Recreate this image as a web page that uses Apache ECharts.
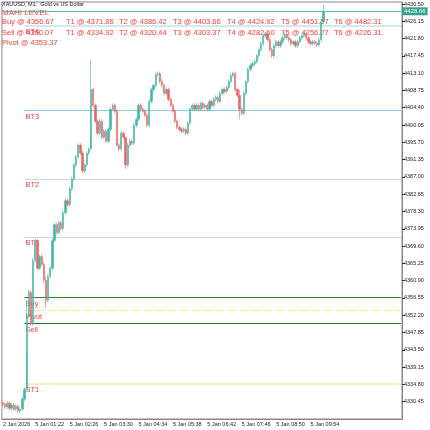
<!DOCTYPE html>
<html><head><meta charset="utf-8">
<script src="https://cdn.jsdelivr.net/npm/echarts@6/dist/echarts.min.js"></script>
<style>html,body{margin:0;padding:0;background:#fff}#c{width:430px;height:430px}</style>
</head><body><div id="c"></div>
<script>
// closes per 4-minute bar
const closes = [4329.8,4329.1,4330.1,4328.8,4329.6,4328.6,4329.3,4328.1,4328.6,4331.1,
4333.6,4352,4358,4350,4366,4371,4364,4367,4365,4361,
4356,4362,4364,4371,4375,4373,4375.5,4374,4378,4381,
4380,4384,4386.5,4390,4392,4395,4393,4388.5,4390,4393,
4394,4409,4405,4401,4398,4401,4397,4398.5,4396,4399,
4404,4405,4403.5,4395,4394,4398,4397,4390,4395,4396,
4395.5,4400,4401.5,4405,4404,4403.5,4402.5,4400,4406,4409,
4410,4412.7,4413,4411,4410,4408,4409,4406.5,4405,4403.5,
4401,4399.5,4399,4398.5,4399,4398,4400.5,4404,4405,4404,
4405,4404,4405.5,4404.5,4405,4404,4406,4405,4406.5,4407,
4406,4408,4409,4408.5,4409.5,4411,4412.5,4413,4409,4407.5,
4404,4403,4408,4411,4414,4415,4415.5,4416,4417.5,4419,
4420.5,4422.5,4423,4421.5,4419,4417.5,4420,4421,4420,4421,
4422,4422.8,4422,4421.5,4420.5,4421,4420,4421,4422,4422.5,
4423,4422,4421,4420.5,4421,4420.7,4420.2,4421.5,4426,4428.66];
const firstOpen = 4330.2;
// notable wicks: index -> [low, high]
const wicks = {11:[4343,4356],41:[4398,4416.5],20:[4354,4362],57:[4389,4397],110:[4401.5,4409],149:[4426,4430.3]};
const tickLabels = ["2 Jan 2026","5 Jan 01:22","5 Jan 02:26","5 Jan 03:30","5 Jan 04:34","5 Jan 05:38","5 Jan 06:42","5 Jan 07:46","5 Jan 08:50","5 Jan 09:54"];
const tickIdx = [0,15,31,47,63,79,95,111,127,143];
const buyT = ["Buy @ 4356.67","T1 @ 4371.86","T2 @ 4386.42","T3 @ 4403.66","T4 @ 4424.92","T5 @ 4451.57","T6 @ 4482.31"];
const sellT = ["Sell @ 4350.07","T1 @ 4334.92","T2 @ 4320.44","T3 @ 4303.37","T4 @ 4282.60","T5 @ 4256.27","T6 @ 4226.31"];
const pivotText = "Pivot @ 4353.37";
const levels = [
 {name:"BT4",v:4424.92,c:"#bfe3f0",t:"solid",w:1.5},
 {name:"BT3",v:4403.66,c:"#87cde6",t:"solid",w:1.2},
 {name:"BT2",v:4386.42,c:"#c3dbe6",t:"solid",w:1},
 {name:"BT1",v:4371.86,c:"#c3dbe6",t:"solid",w:1},
 {name:"Buy",v:4356.67,c:"#2a8a2a",t:"solid",w:1.2},
 {name:"Pivot",v:4353.37,c:"#f5f06a",t:[7,5],w:1.2},
 {name:"Sell",v:4350.07,c:"#227a22",t:"solid",w:1.2},
 {name:"ST1",v:4334.92,c:"#ffe0a8",t:"solid",w:1.5}
];
const current = 4428.66;
const N = 186;
const cats = []; for(let i=0;i<N;i++) cats.push(String(i));
const ohlc = closes.map((c,i)=>{
  const o = i===0?firstOpen:closes[i-1];
  let lo = Math.min(o,c)-0.5, hi = Math.max(o,c)+0.5;
  if (wicks[i]) { lo = wicks[i][0]; hi = wicks[i][1]; }
  return [o,c,lo,hi];
});
const red = "#ff3b3b";
const ff = "Liberation Sans";
const ml = levels.map(l=>[
 {xAxis:10, yAxis:l.v, lineStyle:{color:l.c,type:l.t,width:l.w}, label:{show:true,formatter:l.name,position:"insideStartBottom",distance:[1,2],color:red,fontSize:7.5,fontFamily:ff}},
 {xAxis:N-1, yAxis:l.v}
]);
ml.push([{xAxis:0,yAxis:current,lineStyle:{color:"#5fb8a8",type:"solid",width:1},
  label:{show:true,position:"end",formatter:current.toFixed(2),backgroundColor:"#3a9e8e",color:"#fff",fontSize:6,padding:[1,2],distance:1,fontFamily:ff}},
  {xAxis:N-1,yAxis:current}]);
const cols=[2,66,119,173,227,281,334];
const g=[{type:"text",left:2,top:1,style:{text:"XAUUSD, M1:  Gold vs US Dollar",fontSize:5.5,fill:"#222",fontFamily:ff}},
 {type:"text",left:2,top:9,style:{text:"MAHI LEVEL",fontSize:8,fill:red,fontFamily:ff}},
 {type:"text",left:2,top:39,style:{text:pivotText,fontSize:7.5,fill:red,fontFamily:ff}}];
buyT.forEach((t,i)=>g.push({type:"text",left:cols[i],top:18,style:{text:t,fontSize:7.5,fill:red,fontFamily:ff}}));
sellT.forEach((t,i)=>g.push({type:"text",left:cols[i],top:29,style:{text:t,fontSize:7.5,fill:red,fontFamily:ff}}));
const chart = echarts.init(document.getElementById('c'));
chart.setOption({
 animation:false,
 grid:{left:1,right:28,top:2,bottom:11,show:true,borderColor:"#888",borderWidth:1},
 xAxis:{type:"category",data:cats,boundaryGap:true,
  axisLine:{lineStyle:{color:"#888"}},
  axisTick:{alignWithLabel:true,length:3,lineStyle:{color:"#333"},interval:(i)=>tickIdx.includes(i)},
  axisLabel:{interval:(i)=>tickIdx.includes(i),formatter:(v)=>{const k=tickIdx.indexOf(+v);return k>=0?tickLabels[k]:"";},
   fontSize:5.5,color:"#222",margin:2,align:"left",fontFamily:ff},
  splitLine:{show:false}},
 yAxis:{type:"value",position:"right",min:4326.1,max:4431.0,interval:4.35,scale:true,
  axisLine:{show:true,lineStyle:{color:"#888"}},
  axisTick:{show:true,length:3,lineStyle:{color:"#333"}},
  axisLabel:{showMinLabel:false,showMaxLabel:false,fontSize:5.5,color:"#222",margin:2,formatter:(v)=>v.toFixed(2),fontFamily:ff},
  splitLine:{show:false}},
 graphic:g,
 series:[{type:"candlestick",data:ohlc,barWidth:1.8,z:3,
  itemStyle:{color:"#3fb8a8",color0:"#ef6464",borderColor:"#3fb8a8",borderColor0:"#ef6464",borderWidth:0.6},
  markLine:{symbol:["none","none"],silent:true,animation:false,z:2,data:ml}}]
});
</script></body></html>
